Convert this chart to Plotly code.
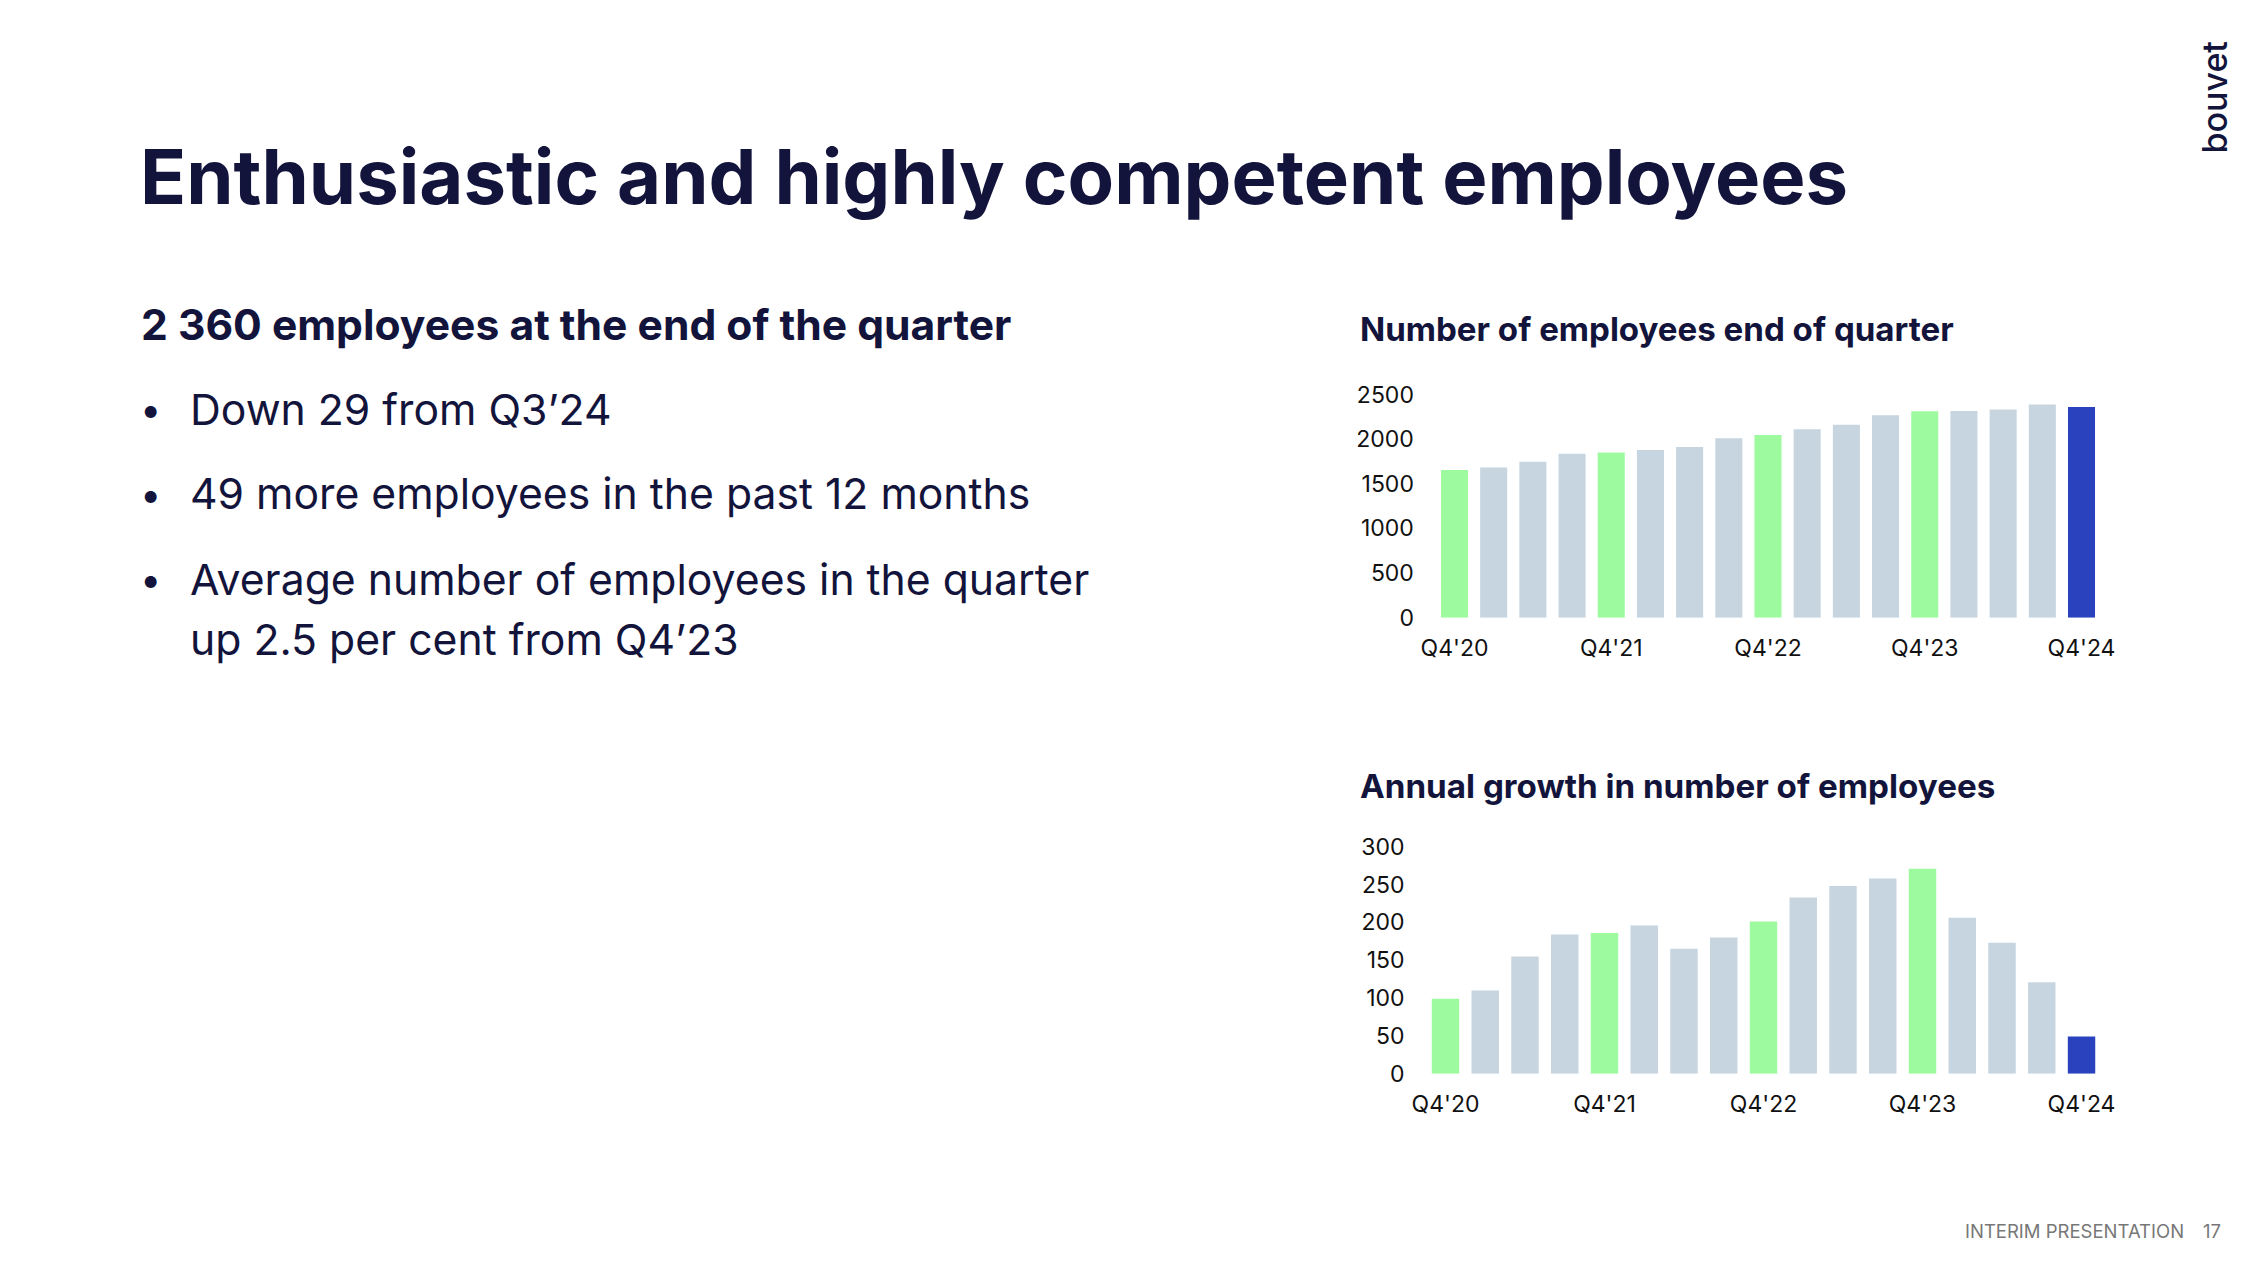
import plotly.graph_objects as go

W, H = 2258, 1262

quarters = ["Q4'20", "Q1'21", "Q2'21", "Q3'21", "Q4'21", "Q1'22", "Q2'22", "Q3'22",
            "Q4'22", "Q1'23", "Q2'23", "Q3'23", "Q4'23", "Q1'24", "Q2'24", "Q3'24", "Q4'24"]
headcount = [1655, 1683, 1748, 1835, 1850, 1878, 1913, 2010, 2045,
             2110, 2160, 2268, 2311, 2315, 2333, 2389, 2360]
growth = [99, 110, 155, 184, 186, 196, 165, 180, 201,
          233, 248, 258, 271, 206, 173, 121, 49]
tick_labels = ["Q4'20", "Q4'21", "Q4'22", "Q4'23", "Q4'24"]
y1_ticks = [0, 500, 1000, 1500, 2000, 2500]
y2_ticks = [0, 50, 100, 150, 200, 250, 300]

GREEN = "#9efa9e"
GREY = "#c7d5e0"
BLUE = "#2a42be"
NAVY = "#13143b"
FONT = "Inter"


def bar_colors(cats):
    cols = []
    for i, c in enumerate(cats):
        if i == len(cats) - 1:
            cols.append(BLUE)
        elif c.startswith("Q4"):
            cols.append(GREEN)
        else:
            cols.append(GREY)
    return cols


def px(x):
    return x / W


def py(y):
    return 1 - y / H


fig = go.Figure()
fig.add_trace(go.Bar(x=quarters, y=headcount, marker=dict(color=bar_colors(quarters), line=dict(width=0)),
                     xaxis="x", yaxis="y", hoverinfo="x+y"))
fig.add_trace(go.Bar(x=quarters, y=growth, marker=dict(color=bar_colors(quarters), line=dict(width=0)),
                     xaxis="x2", yaxis="y2", hoverinfo="x+y"))

tickfont = dict(family=FONT, size=23, color="#111111")
common_x = dict(type="category", showgrid=False, zeroline=False, showline=False, ticks="",
                tickmode="array", tickvals=tick_labels, ticktext=tick_labels,
                tickfont=tickfont, ticklabelstandoff=14, fixedrange=True, automargin=False)
common_y = dict(showgrid=False, zeroline=False, showline=False, ticks="",
                tickfont=tickfont, ticklabelstandoff=20, fixedrange=True, automargin=False)

annotations = []


def txt(text, x, y, size, weight=400, color=NAVY, xanchor="left", yanchor="middle", angle=0):
    annotations.append(dict(text=text, x=px(x), y=py(y), xref="paper", yref="paper",
                            xanchor=xanchor, yanchor=yanchor, showarrow=False, textangle=angle,
                            font=dict(family=FONT, size=size, color=color, weight=weight)))


txt("Enthusiastic and highly competent employees", 138, 175.5, 76, 700)
txt("2 360 employees at the end of the quarter", 139, 324, 42.6, 700)
bul_y = [409, 494, 579]
bullets = ["Down 29 from Q3\u201924", "49 more employees in the past 12 months",
           "Average number of employees in the quarter"]
for yy, b in zip(bul_y, bullets):
    txt("\u2022", 138, yy, 38, 400)
    txt(b, 188, yy, 42.7, 400)
txt("up 2.5 per cent from Q4\u201923", 188, 639, 42.7, 400)

txt("Number of employees end of quarter", 1358, 328.7, 33.1, 700)
txt("Annual growth in number of employees", 1358, 786, 33.2, 700)

txt("INTERIM PRESENTATION", 2186, 1231, 18.5, 400, "#777777", xanchor="right")
txt("17", 2223, 1231, 18.5, 400, "#777777", xanchor="right")

txt("bouvet", 2214, 97.5, 34, 500, NAVY, xanchor="center", angle=-90)

fig.update_layout(
    width=W, height=H, autosize=False,
    margin=dict(l=0, r=0, t=0, b=0, pad=0, autoexpand=False),
    paper_bgcolor="white", plot_bgcolor="white",
    showlegend=False, bargap=0.31,
    xaxis=dict(domain=[px(1434.9), px(2101.1)], anchor="y", **common_x),
    yaxis=dict(domain=[py(617.7), py(394.5)], anchor="x", range=[0, 2500],
               tickmode="array", tickvals=y1_ticks, **common_y),
    xaxis2=dict(domain=[px(1425.6), px(2101.4)], anchor="y2", **common_x),
    yaxis2=dict(domain=[py(1073.7), py(846.7)], anchor="x2", range=[0, 300],
                tickmode="array", tickvals=y2_ticks, **common_y),
    annotations=annotations,
)

fig.write_html("out.html", config={"displayModeBar": False},
               post_script="document.body.style.margin='0';")
